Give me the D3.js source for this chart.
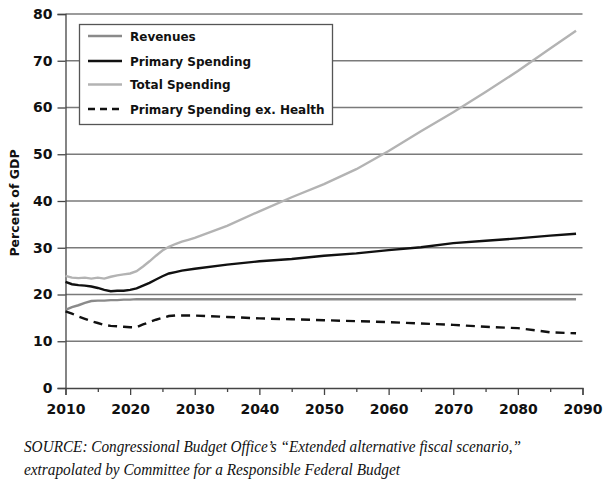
<!DOCTYPE html>
<html><head><meta charset="utf-8">
<script src="https://cdn.jsdelivr.net/npm/d3@7"></script>
<style>body{margin:0;background:#fff}svg{display:block}</style>
</head><body>
<svg id="c" width="615" height="485"></svg>
<script>
const yTicks = [0,10,20,30,40,50,60,70,80];
const xTicks = [2010,2020,2030,2040,2050,2060,2070,2080,2090];
const seriesNames = ["Revenues","Primary Spending","Total Spending","Primary Spending ex. Health"];

const revenues = [[2010,16.7],[2011,17.3],[2012,17.7],[2013,18.2],[2014,18.6],[2015,18.7],[2016,18.7],[2017,18.8],[2018,18.8],[2019,18.9],[2020,18.9],[2021,19.0],[2030,19.0],[2040,19.0],[2050,19.0],[2060,19.0],[2070,19.0],[2080,19.0],[2089,19.0]];
const primary = [[2010,22.7],[2011,22.2],[2012,22.0],[2013,21.9],[2014,21.7],[2015,21.4],[2016,21.0],[2017,20.7],[2018,20.8],[2019,20.8],[2020,21.0],[2021,21.3],[2022,21.9],[2023,22.5],[2024,23.2],[2025,23.9],[2026,24.5],[2027,24.8],[2028,25.1],[2030,25.5],[2035,26.4],[2040,27.1],[2045,27.6],[2050,28.3],[2055,28.8],[2060,29.5],[2065,30.1],[2070,31.0],[2075,31.5],[2080,32.0],[2085,32.6],[2089,33.0]];
const total = [[2010,24.0],[2011,23.6],[2012,23.5],[2013,23.6],[2014,23.4],[2015,23.6],[2016,23.4],[2017,23.8],[2018,24.1],[2019,24.3],[2020,24.5],[2021,25.0],[2022,26.0],[2023,27.1],[2024,28.3],[2025,29.4],[2026,30.2],[2027,30.8],[2028,31.3],[2029,31.7],[2030,32.1],[2035,34.7],[2040,37.8],[2045,40.8],[2050,43.6],[2055,46.8],[2060,50.7],[2065,54.9],[2070,59.0],[2075,63.3],[2080,67.8],[2085,72.6],[2089,76.4]];
const exHealth = [[2010,16.4],[2011,15.9],[2012,15.3],[2013,14.8],[2014,14.3],[2015,13.9],[2016,13.5],[2017,13.3],[2018,13.2],[2019,13.1],[2020,13.0],[2021,13.0],[2022,13.6],[2023,14.1],[2024,14.6],[2025,15.0],[2026,15.4],[2027,15.5],[2030,15.5],[2035,15.2],[2040,14.9],[2045,14.7],[2050,14.5],[2055,14.3],[2060,14.1],[2065,13.8],[2070,13.5],[2075,13.1],[2080,12.8],[2083,12.3],[2085,11.9],[2089,11.7]];

const svg = d3.select("#c");
const x = d3.scaleLinear().domain([2010,2090]).range([65.5,582.5]);
const y = d3.scaleLinear().domain([0,80]).range([388,14]);
const axisFont = "'DejaVu Sans', sans-serif";

// gridlines
svg.append("g").selectAll("line").data(yTicks.filter(d=>d>0)).join("line")
  .attr("x1",x(2010)).attr("x2",x(2090)).attr("y1",d=>y(d)).attr("y2",d=>y(d))
  .attr("stroke","#7a7a7a").attr("stroke-width",1.3);

// y axis
const ya = svg.append("g").attr("transform",`translate(${x(2010)},0)`)
  .call(d3.axisLeft(y).tickValues(yTicks).tickSize(8).tickPadding(5));
ya.select(".domain").attr("stroke","#444").attr("stroke-width",1.3);
ya.selectAll(".tick line").attr("stroke","#444").attr("stroke-width",1.3);
ya.selectAll("text").attr("font-family",axisFont).attr("font-weight","bold").attr("font-size",14).attr("fill","#111");

// x axis
const xa = svg.append("g").attr("transform",`translate(0,${y(0)})`)
  .call(d3.axisBottom(x).tickValues(d3.range(2010,2091,5)).tickSize(7).tickPadding(9)
    .tickFormat(d=> xTicks.includes(d) ? d : ""));
xa.select(".domain").attr("stroke","#444").attr("stroke-width",1.3);
xa.selectAll(".tick line").attr("stroke","#444").attr("stroke-width",1.3)
  .attr("y2",d=> xTicks.includes(d) ? 7 : 4);
xa.selectAll("text").attr("font-family",axisFont).attr("font-weight","bold").attr("font-size",14).attr("fill","#111");

// y label
svg.append("text").attr("transform","translate(19,203) rotate(-90)")
  .attr("text-anchor","middle").attr("font-family",axisFont).attr("font-weight","bold")
  .attr("font-size",12.5).attr("fill","#111").text("Percent of GDP");

const line = d3.line().x(d=>x(d[0])).y(d=>y(d[1]));
const styles = [
  {data:revenues, color:"#8a8a8a", w:2.4, dash:null},
  {data:primary, color:"#111", w:2.4, dash:null},
  {data:total, color:"#b3b3b3", w:2.4, dash:null},
  {data:exHealth, color:"#111", w:2.4, dash:"9,6"}
];
styles.forEach(s=>{
  svg.append("path").attr("d",line(s.data)).attr("fill","none")
    .attr("stroke",s.color).attr("stroke-width",s.w)
    .attr("stroke-dasharray",s.dash);
});

// legend
const lg = svg.append("g");
lg.append("rect").attr("x",79.5).attr("y",24.5).attr("width",253).attr("height",100)
  .attr("fill","#fff").attr("stroke","#555").attr("stroke-width",1.3);
const rowsY = [36,61,84.5,109];
styles.forEach((s,i)=>{
  lg.append("line").attr("x1",88).attr("x2",122).attr("y1",rowsY[i]).attr("y2",rowsY[i])
    .attr("stroke",s.color).attr("stroke-width",s.w).attr("stroke-dasharray",s.dash ? "7,5":null);
  lg.append("text").attr("x",130).attr("y",rowsY[i]+4.5).attr("font-family",axisFont)
    .attr("font-weight","bold").attr("font-size",12).attr("fill","#111").text(seriesNames[i]);
});

// source
const src = svg.append("g").attr("font-family","'Liberation Serif', serif").attr("font-style","italic")
  .attr("font-size",16).attr("fill","#111");
src.append("text").attr("x",24).attr("y",451.5).attr("textLength",497).attr("lengthAdjust","spacingAndGlyphs")
  .text("SOURCE: Congressional Budget Office’s “Extended alternative fiscal scenario,”");
src.append("text").attr("x",24).attr("y",475).attr("textLength",376).attr("lengthAdjust","spacingAndGlyphs")
  .text("extrapolated by Committee for a Responsible Federal Budget");
</script>
</body></html>
